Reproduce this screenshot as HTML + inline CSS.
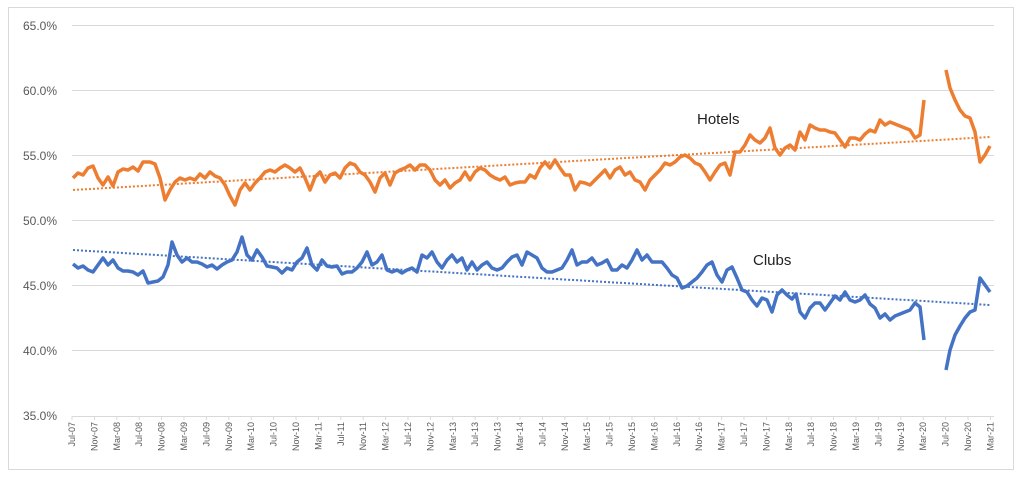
<!DOCTYPE html>
<html><head><style>body{margin:0;background:#fff}svg{display:block}</style></head><body>
<svg width="1024" height="480" xmlns="http://www.w3.org/2000/svg" font-family="Liberation Sans, sans-serif">
<rect x="8.5" y="7.5" width="1005" height="462" fill="#fff" stroke="#d9d9d9"/>
<g stroke="#d9d9d9" stroke-width="1">
<line x1="72" x2="994" y1="25.5" y2="25.5"/><line x1="72" x2="994" y1="90.5" y2="90.5"/><line x1="72" x2="994" y1="155.5" y2="155.5"/><line x1="72" x2="994" y1="220.5" y2="220.5"/><line x1="72" x2="994" y1="285.5" y2="285.5"/><line x1="72" x2="994" y1="350.5" y2="350.5"/><line x1="72" x2="994" y1="416.5" y2="416.5"/>
</g>
<g font-size="12" fill="#595959" text-anchor="end">
<text x="57" y="30">65.0%</text><text x="57" y="95">60.0%</text><text x="57" y="160">55.0%</text><text x="57" y="225">50.0%</text><text x="57" y="290">45.0%</text><text x="57" y="355">40.0%</text><text x="57" y="420">35.0%</text>
</g>
<g id="xl" font-size="9" fill="#595959" text-anchor="end"></g>
<polyline fill="none" stroke="#ed7d31" stroke-width="2" stroke-dasharray="2,2" points="73,190 990,137"/>
<polyline fill="none" stroke="#4472c4" stroke-width="2" stroke-dasharray="2,2" points="73,250 990,305"/>
<polyline fill="none" stroke="#ed7d31" stroke-width="3.5" stroke-linejoin="round" points="73,178 78,173 83,175 88,168 93,166 98,178 103,185 108,177 113,186 118,172 123,169 128,170 133,167 138,171 143,162 150,162 155,164 160,178 165,200 170,190 175,182 180,178 185,180 190,178 195,180 200,174 205,178 210,172 215,176 220,178 225,185 230,196 235,205 240,190 245,183 250,190 255,183 260,178 265,172 270,170 275,172 280,168 285,165 290,168 295,172 300,168 305,178 310,190 315,177 320,172 325,182 330,175 335,173 340,178 345,168 350,163 355,165 360,172 365,175 370,182 375,192 380,178 385,173 390,185 395,173 400,170 405,168 410,165 415,170 420,165 425,165 430,170 435,180 440,185 445,180 450,188 455,183 460,180 465,172 470,180 475,172 480,168 485,170 490,175 495,178 500,180 505,177 510,185 515,183 520,182 525,182 530,175 535,178 540,168 545,162 550,168 555,160 560,168 565,175 570,175 575,190 580,182 585,183 590,185 595,180 600,175 605,170 610,178 615,170 620,167 625,175 630,172 635,180 640,182 645,190 650,180 655,175 660,170 665,163 670,165 675,162 680,157 685,155 690,158 695,163 700,165 705,172 710,180 715,172 720,165 725,163 730,175 735,152 740,152 745,145 750,135 755,140 760,143 765,138 770,128 775,148 780,155 785,148 790,145 795,150 800,132 805,140 810,125 815,128 820,130 825,130 830,132 835,133 840,140 845,147 850,138 855,138 860,140 865,134 870,130 875,132 880,120 885,125 890,122 895,124 900,126 905,128 910,130 915,138 920,135 924,100"/>
<polyline fill="none" stroke="#ed7d31" stroke-width="3.5" stroke-linejoin="round" points="946,70 950,88 955,100 960,110 965,116 970,118 975,132 980,162 985,155 990,146"/>
<polyline fill="none" stroke="#4472c4" stroke-width="3.5" stroke-linejoin="round" points="73,264 78,268 83,266 88,270 93,272 98,265 103,258 108,265 113,260 118,268 123,271 128,271 133,272 138,275 143,271 148,283 153,282 158,281 163,277 168,265 172,242 177,255 182,262 187,258 192,262 197,262 202,264 207,267 212,265 217,269 222,265 227,262 232,260 237,252 242,237 247,255 252,260 257,250 262,257 267,266 272,267 277,268 282,273 287,268 292,270 297,262 302,258 307,248 312,265 317,270 322,260 327,266 332,267 337,266 342,274 347,272 352,272 357,268 362,262 367,252 372,265 377,262 382,255 387,270 392,272 397,270 402,273 407,270 412,268 417,272 422,255 427,258 432,252 437,262 442,268 447,260 452,255 457,262 462,258 467,270 472,262 477,270 482,265 487,262 492,268 497,270 502,268 507,262 512,257 517,255 522,265 527,252 532,255 537,258 542,268 547,272 552,272 557,270 562,268 567,260 572,250 577,265 582,262 587,262 592,258 597,265 602,263 607,260 612,270 617,270 622,265 627,268 632,260 637,250 642,260 647,255 652,262 657,262 662,262 667,268 672,275 677,278 682,288 687,286 692,282 697,278 702,272 707,265 712,262 717,275 722,282 727,270 732,267 737,278 742,290 747,292 752,300 757,306 762,298 767,300 772,312 777,295 782,290 787,295 792,299 796,294 800,312 805,318 810,308 815,303 820,303 825,310 830,303 835,296 840,300 845,292 850,300 855,302 860,300 865,295 870,304 875,308 880,318 885,314 890,320 895,316 900,314 905,312 910,310 915,303 920,307 924,340"/>
<polyline fill="none" stroke="#4472c4" stroke-width="3.5" stroke-linejoin="round" points="946,370 950,350 955,335 960,326 965,318 970,312 975,310 980,278 985,285 990,292"/>
<text x="697" y="124" font-size="15" fill="#222">Hotels</text>
<text x="753" y="265" font-size="15" fill="#222">Clubs</text>
</svg>
<script>
var m=["Jul","Nov","Mar"],g=document.getElementById("xl"),h="";
for(var i=0;i<42;i++){var yr=7+Math.floor((i*4+6)/12);var lab=m[i%3]+"-"+(yr<10?"0"+yr:yr);var x=72+i*22.4+3;
h+='<line x1="'+(x-3)+'" x2="'+(x-3)+'" y1="416" y2="420" stroke="#d9d9d9"/>';
h+='<text transform="translate('+x+',422) rotate(-90)">'+lab+'</text>';}
g.innerHTML=h;
</script>
</body></html>
